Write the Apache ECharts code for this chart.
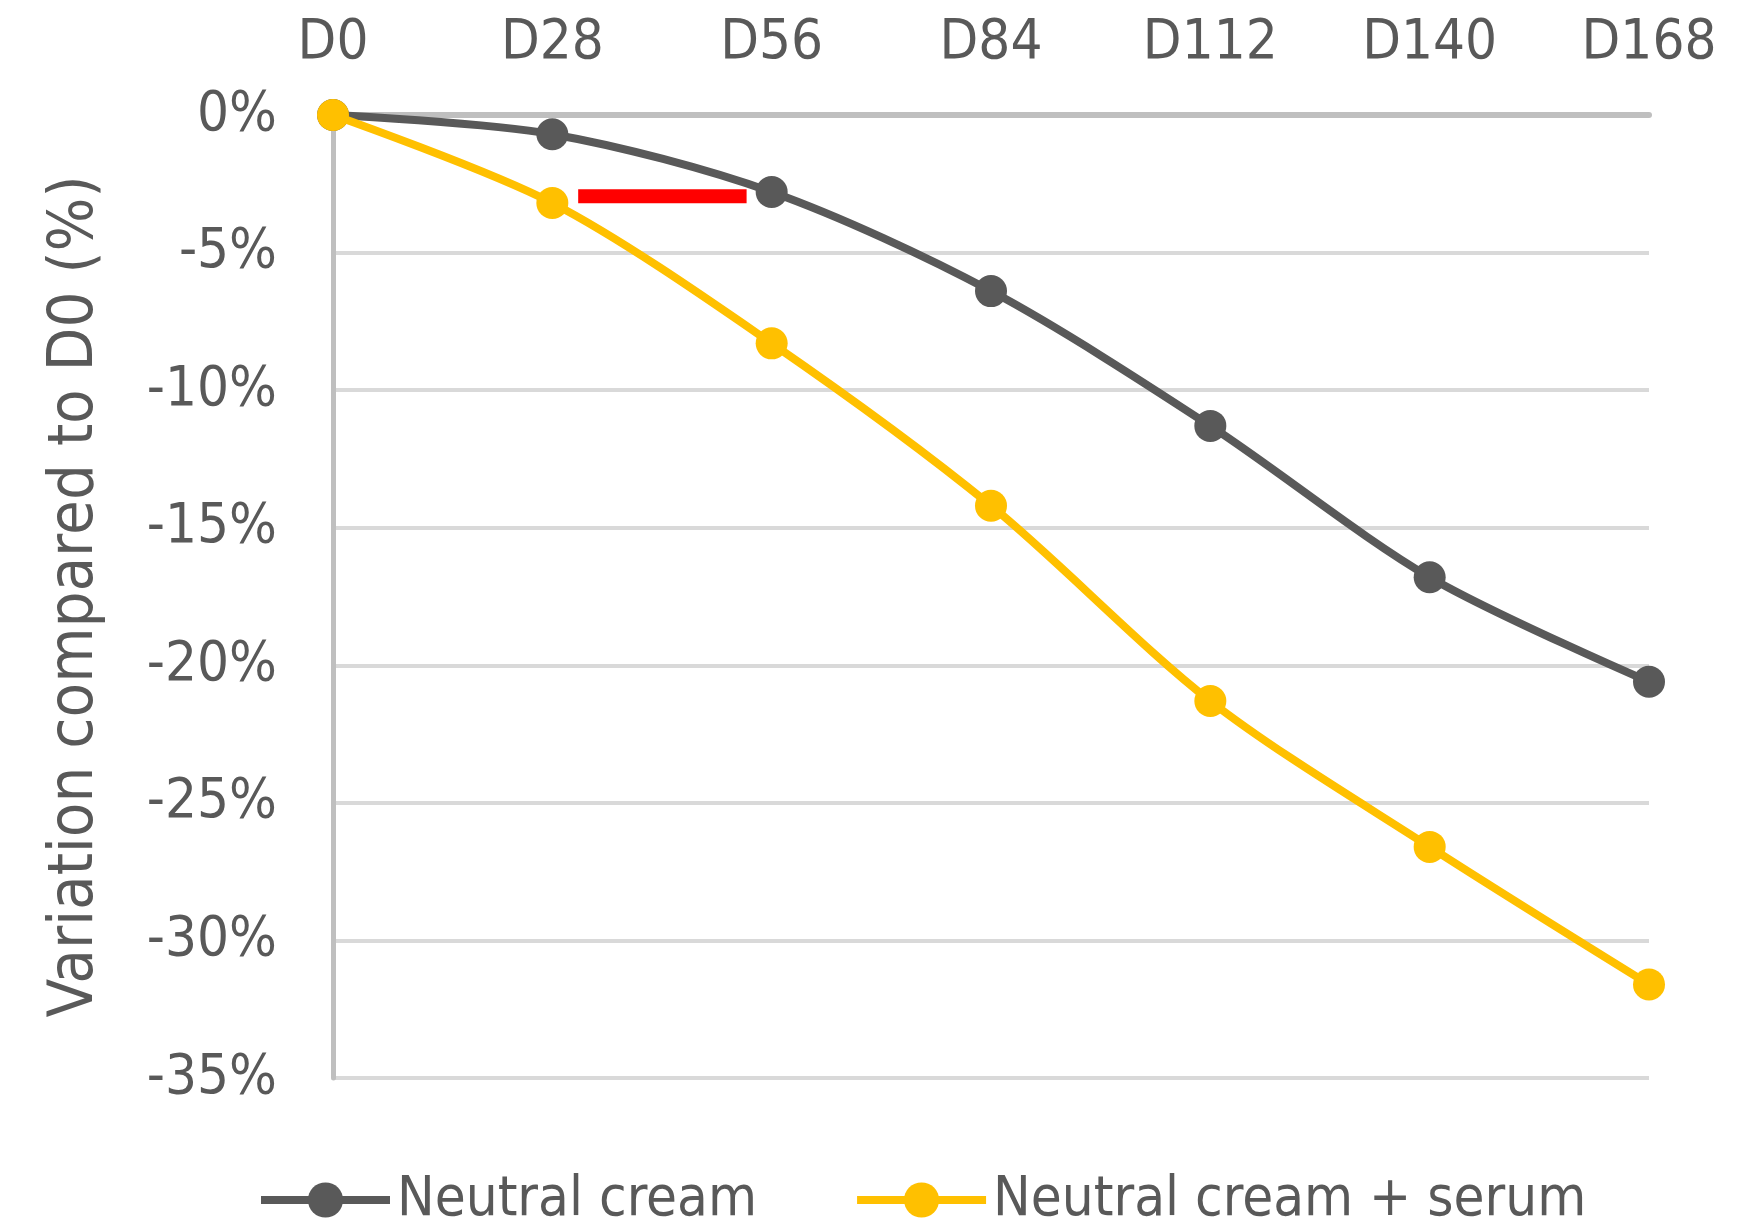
<!DOCTYPE html>
<html>
<head>
<meta charset="utf-8">
<title>Variation compared to D0</title>
<script src="https://cdn.jsdelivr.net/npm/echarts@6/dist/echarts.min.js"></script>
<style>
  html, body { margin: 0; padding: 0; background: #ffffff; }
  #chart { width: 1758px; height: 1222px; }
</style>
</head>
<body>
<div id="chart"></div>
<script>
// Visit days and their labels
const days = [0, 28, 56, 84, 112, 140, 168];
const dayLabels = ['D0', 'D28', 'D56', 'D84', 'D112', 'D140', 'D168'];

// Variation compared to D0, in %
const neutralCream = [0, -0.7, -2.8, -6.4, -11.3, -16.8, -20.6];
const neutralCreamSerum = [0, -3.2, -8.3, -14.2, -21.3, -26.6, -31.6];

// Horizontal marker showing the time gap between the two curves: [day, %]
const gapSegment = [[31.3, -2.95], [52.8, -2.95]];

// Y axis ticks (%)
const yTicks = [0, -5, -10, -15, -20, -25, -30, -35];

const FONT = "'DejaVu Sans Condensed', 'Liberation Sans', sans-serif";
const TEXT = '#595959';

const toPairs = (vals) => vals.map((v, i) => [days[i], v]);

const chart = echarts.init(document.getElementById('chart'), null, { renderer: 'canvas' });

chart.setOption({
  animation: false,
  backgroundColor: '#ffffff',
  textStyle: { fontFamily: FONT, color: TEXT },
  grid: { left: 333, right: 109, top: 115, bottom: 144, containLabel: false },
  legend: {
    data: ['Neutral cream', 'Neutral cream + serum'],
    left: 252,
    top: 1167,
    itemWidth: 129,
    itemHeight: 44,
    itemGap: 96,
    lineStyle: { width: 8 },
    textStyle: { fontFamily: FONT, fontSize: 56, color: TEXT, padding: [0, 0, 0, 2] }
  },
  xAxis: {
    type: 'value',
    position: 'top',
    min: days[0],
    max: days[days.length - 1],
    interval: 28,
    axisLine: { show: true, onZero: false, lineStyle: { color: '#BFBFBF', width: 6 } },
    axisTick: { show: false },
    splitLine: { show: false },
    axisLabel: {
      margin: 44,
      fontFamily: FONT,
      fontSize: 56,
      color: TEXT,
      formatter: (v) => {
        const i = days.indexOf(v);
        return i >= 0 ? dayLabels[i] : '';
      }
    }
  },
  yAxis: {
    type: 'value',
    min: yTicks[yTicks.length - 1],
    max: yTicks[0],
    interval: 5,
    name: 'Variation compared to D0 (%)',
    nameLocation: 'middle',
    nameGap: 226,
    nameTextStyle: { fontFamily: FONT, fontSize: 63, color: TEXT },
    axisLine: { show: true, onZero: false, lineStyle: { color: '#BFBFBF', width: 5 } },
    axisTick: { show: false },
    splitLine: { show: true, lineStyle: { color: '#D9D9D9', width: 4 } },
    axisLabel: {
      margin: 56,
      fontFamily: FONT,
      fontSize: 56,
      color: TEXT,
      formatter: (v) => v + '%'
    }
  },
  series: [
    {
      name: 'Neutral cream',
      type: 'line',
      data: toPairs(neutralCream),
      smooth: 0.3,
      symbol: 'circle',
      symbolSize: 32,
      showAllSymbol: true,
      lineStyle: { color: '#595959', width: 8 },
      itemStyle: { color: '#595959' },
      z: 3
    },
    {
      name: 'Neutral cream + serum',
      type: 'line',
      data: toPairs(neutralCreamSerum),
      smooth: 0.3,
      symbol: 'circle',
      symbolSize: 32,
      showAllSymbol: true,
      lineStyle: { color: '#FFC000', width: 8 },
      itemStyle: { color: '#FFC000' },
      z: 4
    },
    {
      name: 'gap',
      type: 'line',
      data: gapSegment,
      symbol: 'none',
      lineStyle: { color: '#FF0000', width: 14, cap: 'butt' },
      silent: true,
      z: 5
    }
  ]
});
</script>
</body>
</html>
